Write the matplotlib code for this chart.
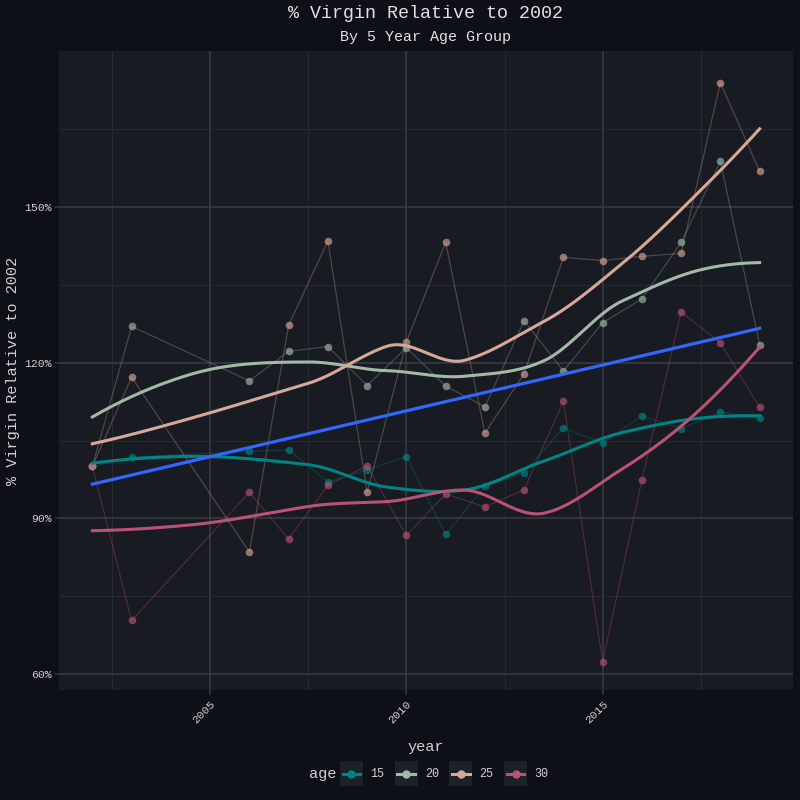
import numpy as np
import matplotlib
matplotlib.use("Agg")
import matplotlib.pyplot as plt
from matplotlib.lines import Line2D
from matplotlib.patches import Rectangle
from matplotlib.legend_handler import HandlerBase
from matplotlib.ticker import FixedLocator

years = [2002, 2003, 2006, 2007, 2008, 2009, 2010, 2011, 2012, 2013, 2014, 2015, 2016, 2017, 2018, 2019]
age_groups = ["15", "20", "25", "30"]
pct_15 = [100, 101.8, 102.9, 103.2, 97.0, 99.3, 101.9, 86.9, 96.2, 98.8, 107.4, 104.5, 109.7, 107.3, 110.5, 109.3]
pct_20 = [100, 127.0, 116.5, 122.2, 123.1, 115.6, 122.9, 115.5, 111.5, 128.1, 118.4, 127.7, 132.3, 143.2, 158.8, 123.5]
pct_25 = [100, 117.2, 83.5, 127.2, 143.5, 95.0, 124.0, 143.2, 106.4, 117.9, 140.3, 139.7, 140.5, 141.1, 174.0, 156.9]
pct_30 = [100, 70.3, 95.0, 86.0, 96.4, 100.1, 86.7, 94.7, 92.2, 95.5, 112.6, 62.3, 97.4, 129.8, 123.8, 111.4]
series = [pct_15, pct_20, pct_25, pct_30]
colors = ["#008585", "#a3b9a7", "#d6a79b", "#bb5275"]

BG = "#0d1017"
PANEL = "#181b21"
TXT = "#d0d0d0"
FONT = "Liberation Mono"


def local_fit(x, y, x0, q):
    # quadratic fit around x0 with tricube weights -> value and slope
    d = np.abs(x - x0)
    h = np.sort(d)[q - 1]
    w = np.clip(1 - (d / h) ** 3, 0, None) ** 3
    X = np.vstack([np.ones_like(x), x - x0, (x - x0) ** 2]).T
    W = np.diag(w)
    beta = np.linalg.lstsq(X.T @ W @ X, X.T @ W @ y, rcond=None)[0]
    return beta[0], beta[1]


def kd_vertices(xsorted, fc):
    # split cells at the median like R's loess kd tree
    verts = []

    def split(pts):
        if len(pts) <= fc:
            return
        m = len(pts) // 2
        verts.append((pts[m - 1] + pts[m]) / 2)
        split(pts[:m])
        split(pts[m:])

    split(list(xsorted))
    return verts


def loess(x, y, xs, span=0.75):
    x = np.asarray(x, float)
    y = np.asarray(y, float)
    n = len(x)
    q = int(np.floor(n * span))
    mu = 0.005 * (x.max() - x.min())
    verts = [x.min() - mu, x.max() + mu] + kd_vertices(np.sort(x), int(np.floor(n * span * 0.2)))
    verts = np.sort(verts)
    vals = np.array([local_fit(x, y, v, q) for v in verts])
    out = []
    for t in xs:
        i = min(np.searchsorted(verts, t, side="right") - 1, len(verts) - 2)
        x0, x1 = verts[i], verts[i + 1]
        dx = x1 - x0
        s = (t - x0) / dx
        h00 = 2 * s ** 3 - 3 * s ** 2 + 1
        h10 = s ** 3 - 2 * s ** 2 + s
        h01 = -2 * s ** 3 + 3 * s ** 2
        h11 = s ** 3 - s ** 2
        out.append(h00 * vals[i, 0] + h10 * dx * vals[i, 1] + h01 * vals[i + 1, 0] + h11 * dx * vals[i + 1, 1])
    return np.array(out)


class KeyHandler(HandlerBase):
    # grey key box with a short line and a dot in it
    def create_artists(self, legend, orig_handle, xdescent, ydescent, width, height, fontsize, trans):
        c = orig_handle.get_color()
        x0, y0 = -xdescent, -ydescent
        ym = y0 + height / 2
        box = Rectangle((x0, y0), width, height, facecolor="#1c2027", edgecolor="none", transform=trans)
        ln = Line2D([x0 + 0.12 * width, x0 + 0.88 * width], [ym, ym], color=c, lw=2.2, transform=trans)
        dot = Line2D([x0 + width / 2], [ym], color=c, marker="o", markersize=5, lw=0, transform=trans)
        return [box, ln, dot]


fig = plt.figure(figsize=(8, 8), dpi=100, facecolor=BG)
ax = fig.add_axes([0.07375, 0.1375, 0.9175, 0.79875], facecolor=PANEL)

xs = np.linspace(years[0], years[-1], 200)
for vals, c in zip(series, colors):
    ax.plot(years, vals, color=c, alpha=0.3, lw=0.9, zorder=2)
    ax.scatter(years, vals, s=30, color=c, alpha=0.65, linewidths=0, zorder=3)
for vals, c in zip(series, colors):
    ax.plot(xs, loess(years, vals, xs), color=c, lw=2.2, zorder=4)

# overall linear trend
all_x = np.tile(years, len(series))
all_y = np.concatenate(series)
slope, icpt = np.polyfit(all_x, all_y, 1)
ax.plot(xs, slope * xs + icpt, color="#3366ff", lw=2.3, zorder=5)

ax.set_xlim(2001.15, 2019.85)
ax.set_ylim(56.9, 180.1)
ax.set_xticks([2005, 2010, 2015])
ax.set_yticks([60, 90, 120, 150])
ax.set_yticklabels(["60%", "90%", "120%", "150%"])
ax.xaxis.set_minor_locator(FixedLocator([2002.5, 2007.5, 2012.5, 2017.5]))
ax.yaxis.set_minor_locator(FixedLocator([75, 105, 135, 165]))
ax.grid(True, which="major", color="#383c44", lw=1.1)
ax.grid(True, which="minor", color="#262a31", lw=0.7)
ax.set_axisbelow(True)
for s in ax.spines.values():
    s.set_visible(False)
ax.tick_params(which="major", colors="#383c44", width=1.1, labelcolor=TXT)
ax.tick_params(axis="x", which="major", length=3.6, pad=3)
ax.tick_params(axis="y", which="major", length=3, pad=2)
ax.tick_params(which="minor", length=0)
for lab in ax.get_yticklabels():
    lab.set_fontfamily(FONT)
    lab.set_fontsize(8.2)
for lab in ax.get_xticklabels():
    lab.set_fontfamily(FONT)
    lab.set_fontsize(8.2)
    lab.set_rotation(45)
    lab.set_ha("right")
    lab.set_rotation_mode("anchor")

ax.set_xlabel("year", fontfamily=FONT, fontsize=11, color=TXT, labelpad=10)
ax.set_ylabel("% Virgin Relative to 2002", fontfamily=FONT, fontsize=11, color=TXT)
ax.yaxis.set_label_coords(-0.053, 0.5)

fig.text(0.5325, 0.9825, "% Virgin Relative to 2002", ha="center", va="center",
         fontfamily=FONT, fontsize=13.2, color="#e2e2e2")
fig.text(0.5325, 0.954, "By 5 Year Age Group", ha="center", va="center",
         fontfamily=FONT, fontsize=10.8, color="#e2e2e2")

handles = [Line2D([], [], color=c) for c in colors]
leg = fig.legend(handles, age_groups, loc="center", bbox_to_anchor=(0.555, 0.033),
                 ncol=4, frameon=False, handlelength=1.95, handleheight=2.8,
                 handletextpad=0.6, columnspacing=0.9,
                 handler_map={Line2D: KeyHandler()},
                 prop={"family": FONT, "size": 8.5})
for t in leg.get_texts():
    t.set_color(TXT)
fig.text(0.386, 0.033, "age", ha="left", va="center", fontfamily=FONT, fontsize=11, color=TXT)

fig.savefig("out.png", dpi=100, facecolor=BG)
